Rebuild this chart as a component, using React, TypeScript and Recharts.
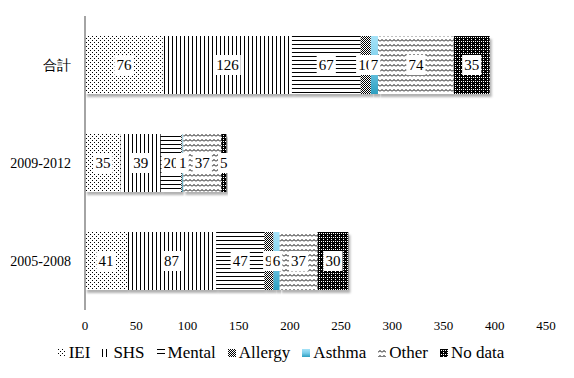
import React from 'react';
import { BarChart, Bar, XAxis, YAxis, Legend, LabelList } from 'recharts';

const categories = ['合計', '2009-2012', '2005-2008'];
const ieiValues = [76, 35, 41];
const shsValues = [126, 39, 87];
const mentalValues = [67, 20, 47];
const allergyValues = [10, 1, 9];
const asthmaValues = [7, 1, 6];
const otherValues = [74, 37, 37];
const noDataValues = [35, 5, 30];
const xTicks = [0, 50, 100, 150, 200, 250, 300, 350, 400, 450];

const series = [
  { key: 'IEI', values: ieiValues, pat: 'pat-iei' },
  { key: 'SHS', values: shsValues, pat: 'pat-shs' },
  { key: 'Mental', values: mentalValues, pat: 'pat-mental' },
  { key: 'Allergy', values: allergyValues, pat: 'pat-allergy' },
  { key: 'Asthma', values: asthmaValues, pat: 'grad-asthma' },
  { key: 'Other', values: otherValues, pat: 'pat-other' },
  { key: 'No data', values: noDataValues, pat: 'pat-nodata' },
];

const data = categories.map((cat, i) => {
  const row: any = { cat };
  series.forEach((s) => {
    row[s.key] = s.values[i];
  });
  return row;
});

const SERIF = '"Liberation Serif", "DejaVu Serif", serif';

const renderLabel = (props: any) => {
  const { x, y, width, height, value } = props;
  const cx = Number(x) + Number(width) / 2;
  const cy = Number(y) + Number(height) / 2;
  const s = String(value);
  const w = s.length * 7.6 + 4;
  return (
    <g>
      <rect x={cx - w / 2} y={cy - 10} width={w} height={20} fill="#fff" />
      <text x={cx} y={cy} textAnchor="middle" dominantBaseline="central" fontSize={15} fontFamily={SERIF} fill="#000">
        {s}
      </text>
    </g>
  );
};

const renderLegend = () => (
  <div
    style={{
      display: 'flex',
      justifyContent: 'center',
      alignItems: 'center',
      height: 24,
      paddingRight: 8,
      fontFamily: SERIF,
      fontSize: 17,
      color: '#000',
    }}
  >
    {series.map((s) => (
      <div key={s.key} style={{ display: 'flex', alignItems: 'center', marginRight: 12 }}>
        <svg width={8} height={8} style={{ marginRight: 3 }}>
          <rect x={0} y={0} width={8} height={8} fill={`url(#${s.pat})`} />
        </svg>
        <span style={{ whiteSpace: 'nowrap' }}>{s.key}</span>
      </div>
    ))}
  </div>
);

export default function App() {
  return (
    <div style={{ position: 'relative', width: 566, height: 370 }}>
      <style>{`.recharts-bar-rectangle path { filter: url(#bar-shadow); }`}</style>
      <svg width={0} height={0} style={{ position: 'absolute' }}>
        <defs>
          <pattern id="pat-iei" width={4} height={4} patternUnits="userSpaceOnUse">
            <rect width={4} height={4} fill="#fff" />
            <rect x={0} y={0} width={1} height={1} fill="#000" />
            <rect x={2} y={2} width={1} height={1} fill="#000" />
          </pattern>
          <pattern id="pat-shs" width={4} height={4} patternUnits="userSpaceOnUse">
            <rect width={4} height={4} fill="#fff" />
            <rect x={0} y={0} width={1} height={4} fill="#000" />
          </pattern>
          <pattern id="pat-mental" width={4} height={4} patternUnits="userSpaceOnUse">
            <rect width={4} height={4} fill="#fff" />
            <rect x={0} y={0} width={4} height={1} fill="#000" />
          </pattern>
          <pattern id="pat-allergy" width={2} height={2} patternUnits="userSpaceOnUse">
            <rect width={2} height={2} fill="#fff" />
            <rect x={0} y={0} width={1} height={1} fill="#000" />
            <rect x={1} y={1} width={1} height={1} fill="#000" />
          </pattern>
          <linearGradient id="grad-asthma" x1="0" y1="0" x2="0" y2="1">
            <stop offset="0%" stopColor="#a6e3f8" />
            <stop offset="50%" stopColor="#79cdea" />
            <stop offset="100%" stopColor="#2c9fc0" />
          </linearGradient>
          <pattern id="pat-other" width={4} height={5} patternUnits="userSpaceOnUse">
            <rect width={4} height={5} fill="#fff" />
            <path d="M0,3.5 L2,1.5 L4,3.5" stroke="#000" strokeWidth={1} fill="none" />
          </pattern>
          <pattern id="pat-nodata" width={4} height={4} patternUnits="userSpaceOnUse">
            <rect width={4} height={4} fill="#000" />
            <rect x={1} y={1} width={1} height={1} fill="#fff" />
            <rect x={3} y={3} width={1} height={1} fill="#fff" />
            <rect x={3} y={1} width={1} height={1} fill="#fff" />
          </pattern>
          <filter id="bar-shadow" x="-10%" y="-10%" width="130%" height="130%">
            <feDropShadow dx={2} dy={3} stdDeviation={1} floodColor="#000" floodOpacity={0.3} />
          </filter>
        </defs>
      </svg>
      <BarChart
        layout="vertical"
        width={566}
        height={370}
        data={data}
        margin={{ top: 8, right: 28, bottom: 13, left: 0 }}
        barSize={58}
      >
        <XAxis
          type="number"
          domain={[0, 450]}
          ticks={xTicks}
          axisLine={false}
          tickLine={false}
          tickMargin={5}
          height={31}
          tick={{ fontSize: 13, fontFamily: SERIF, fill: '#000' }}
        />
        <YAxis
          type="category"
          dataKey="cat"
          width={77}
          axisLine={{ stroke: '#868686', strokeWidth: 1.5 }}
          tickLine={false}
          tickSize={6}
          tickMargin={8}
          tick={{ fontSize: 14, fontFamily: SERIF, fill: '#000' }}
        />
        <Legend verticalAlign="bottom" content={renderLegend} wrapperStyle={{ left: 0, width: 566 }} />
        {series.map((s) => (
          <Bar key={s.key} dataKey={s.key} stackId="a" fill={`url(#${s.pat})`} isAnimationActive={false}>
            <LabelList dataKey={s.key} content={renderLabel} />
          </Bar>
        ))}
      </BarChart>
    </div>
  );
}
